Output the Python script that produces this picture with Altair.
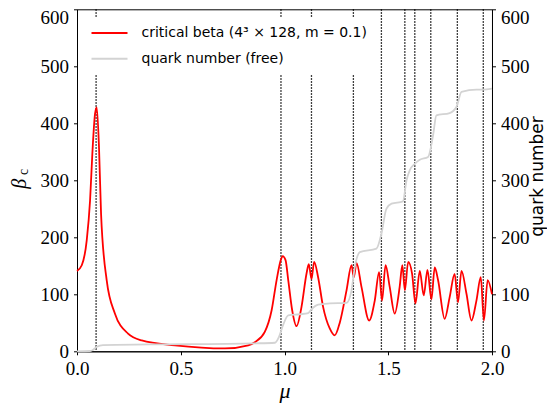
import altair as alt
import pandas as pd

# ---- data ----
mu_beta = [0.000, 0.023, 0.047, 0.063, 0.074, 0.087, 0.095, 0.106, 0.116, 0.143,
           0.183, 0.246, 0.312, 0.472, 0.713, 0.825, 0.857, 0.905, 0.938, 0.962,
           0.982, 0.991, 1.005, 1.018, 1.037, 1.058, 1.082, 1.106, 1.117, 1.130,
           1.143, 1.162, 1.186, 1.218, 1.242, 1.267, 1.299, 1.323, 1.334, 1.347,
           1.371, 1.408, 1.435, 1.456, 1.470, 1.487, 1.507, 1.531, 1.555, 1.568,
           1.580, 1.596, 1.615, 1.631, 1.652, 1.671, 1.689, 1.708, 1.724, 1.740,
           1.772, 1.796, 1.820, 1.836, 1.853, 1.877, 1.901, 1.925, 1.946, 1.961,
           1.979, 2.000]
beta_c = [141, 151, 195, 265, 347, 417, 428, 358, 241, 125,
          66, 31, 19, 10.5, 5, 10.5, 16, 34, 72, 125,
          160, 167, 160, 125, 72, 44, 78, 136, 153, 127,
          157, 130, 78, 40, 28, 51, 107, 151, 130, 155,
          113, 54, 89, 139, 89, 151, 113, 66, 113, 151,
          107, 157, 136, 84, 141, 98, 143, 91, 147, 125,
          57, 95, 136, 86, 141, 101, 54, 89, 130, 54,
          125, 100]

mu_quark = [0.000, 0.063, 0.079, 0.096, 0.125, 0.350, 0.857, 0.954, 0.973, 0.993,
            1.018, 1.074, 1.114, 1.133, 1.162, 1.218, 1.299, 1.323, 1.339, 1.363,
            1.443, 1.467, 1.491, 1.516, 1.571, 1.588, 1.604, 1.628, 1.652, 1.692,
            1.716, 1.732, 1.796, 1.829, 1.853, 1.925, 1.957, 2.000]
quark_n = [0, 0.5, 3, 8, 11, 12, 14, 15, 25, 46,
           63, 65, 67, 75, 82, 84, 85, 107, 148, 174,
           180, 206, 250, 259, 263, 300, 318, 329, 336, 341,
           379, 414, 418, 429, 455, 459, 459, 461]

mu_levels = [0.092, 0.983, 1.130, 1.332, 1.467, 1.580, 1.628, 1.705, 1.833, 1.958]

x_ticks = [0.0, 0.5, 1.0, 1.5, 2.0]
y_ticks = [0, 100, 200, 300, 400, 500, 600]

LBL_BETA = "critical beta (4³ × 128, m = 0.1)"
LBL_Q = "quark number (free)"

df_beta = pd.DataFrame({"mu": mu_beta, "val": beta_c, "series": LBL_BETA})
df_q = pd.DataFrame({"mu": mu_quark, "val": quark_n, "series": LBL_Q})
df_lv = pd.DataFrame({"mu": mu_levels})

W, H = 415, 342
SERIF = "Liberation Serif"
SANS = "DejaVu Sans"

xscale = alt.Scale(domain=[0, 2], nice=False, zero=False)
yscale = alt.Scale(domain=[0, 600], nice=False)

common_axis = dict(
    domainColor="black", tickColor="black", labelColor="black",
    tickSize=3.5, tickWidth=1, domainWidth=1, grid=False, labelFlush=False,
    labelFont=SERIF, labelFontSize=19, labelPadding=5,
)
# keep the top label ("600") inside the page
top_label_offset = {"condition": {"test": "datum.value == 600", "value": 8}, "value": 0}

xaxis = alt.Axis(values=x_ticks, format=".1f", title="μ", titleFont=SERIF,
                 titleFontStyle="italic", titleFontWeight="normal", titleFontSize=22,
                 titleColor="black", titleY=46.5, titleBaseline="alphabetic",
                 **common_axis)

color = alt.Color(
    "series:N",
    scale=alt.Scale(domain=[LBL_BETA, LBL_Q], range=["#ff0000", "#d3d3d3"]),
    legend=alt.Legend(
        title=None, orient="none", legendX=16.5, legendY=7.7,
        fillColor="white", padding=9,
        symbolType="M-3,0H3", symbolSize=144, symbolStrokeWidth=2,
        labelFont=SANS, labelFontSize=14, labelColor="black",
        labelOffset=25, rowPadding=11.7, labelLimit=500,
    ),
)

rules = alt.Chart(df_lv).mark_rule(
    color="black", strokeWidth=1.3, strokeDash=[1.5, 1.5]
).encode(x=alt.X("mu:Q", scale=xscale, axis=xaxis))

red = alt.Chart(df_beta).mark_line(strokeWidth=1.8, interpolate="monotone").encode(
    x=alt.X("mu:Q", scale=xscale, axis=xaxis),
    y=alt.Y("val:Q", scale=yscale, axis=alt.Axis(
        orient="left", values=y_ticks, title="β", titleFont=SERIF,
        titleFontStyle="italic", titleFontWeight="normal", titleFontSize=20,
        titleColor="black", titleX=-58, titleY=174, titleAngle=270,
        titleAlign="center", titleBaseline="middle",
        labelOffset=top_label_offset, **common_axis)),
    color=color,
)

gray = alt.Chart(df_q).mark_line(strokeWidth=1.8, interpolate="monotone").encode(
    x=alt.X("mu:Q", scale=xscale, axis=xaxis),
    y=alt.Y("val:Q", scale=yscale, axis=alt.Axis(
        orient="right", values=y_ticks, title="quark number", titleFont=SANS,
        titleFontWeight="normal", titleFontSize=17, titleColor="black",
        titleX=45.5, titleY=166.7, titleAngle=270, titleAlign="center",
        titleBaseline="middle", labelOffset=top_label_offset, **common_axis)),
    color=color,
)

sub_c = alt.Chart(pd.DataFrame({"t": ["c"]})).mark_text(
    angle=270, font=SERIF, fontSize=14, color="black", baseline="middle", align="center"
).encode(x=alt.value(24 - 77), y=alt.value(172 - 9.3), text="t:N")

chart = alt.layer(rules, red, gray, sub_c).resolve_scale(y="independent").properties(
    width=W, height=H,
    autosize=alt.AutoSizeParams(type="none"),
    padding={"left": 69, "top": 1.3, "right": 55, "bottom": 52},
).configure_view(stroke="black", strokeWidth=1)

chart.save("out.html", embed_options={"renderer": "svg", "actions": False})
